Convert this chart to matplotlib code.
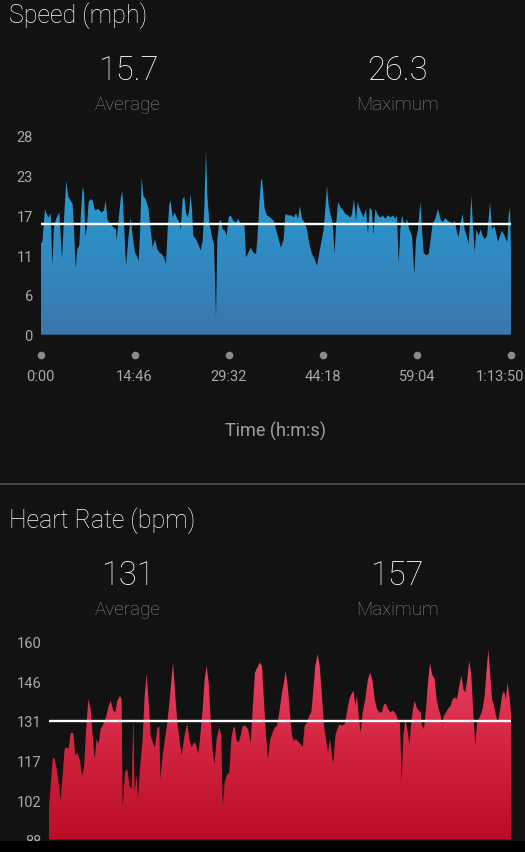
import numpy as np
import matplotlib
matplotlib.use('Agg')
import matplotlib.pyplot as plt
from matplotlib.colors import LinearSegmentedColormap
from matplotlib.patches import Rectangle
from matplotlib.lines import Line2D
from matplotlib.transforms import blended_transform_factory, ScaledTranslation

plt.rcParams['font.family'] = ['Roboto', 'DejaVu Sans']

# ---------------- data ----------------
duration_min = 73 + 50 / 60.0          # 1:13:50
xtick_labels = ['0:00', '14:46', '29:32', '44:18', '59:04', '1:13:50']

speed_time = [
    0.00, 0.29, 0.71, 0.97, 1.28, 1.60, 1.86, 2.12, 2.54, 2.96,
    3.37, 3.69, 4.05, 4.37, 4.73, 5.05, 5.26, 5.52, 5.78, 6.09,
    6.36, 6.62, 6.83, 7.04, 7.25, 7.56, 7.87, 8.19, 8.55, 9.08,
    9.60, 9.97, 10.23, 10.49, 10.91, 11.43, 11.85, 11.95, 12.27, 12.58,
    12.84, 13.10, 13.42, 13.78, 14.15, 14.46, 14.83, 15.09, 15.41, 15.61,
    15.88, 16.14, 16.50, 16.92, 17.29, 17.60, 17.97, 18.33, 18.65, 19.01,
    19.38, 19.69, 19.96, 20.22, 20.43, 20.74, 21.06, 21.37, 21.68, 22.00,
    22.31, 22.57, 22.83, 23.04, 23.30, 23.57, 23.77, 23.98, 24.40, 24.77,
    25.14, 25.45, 25.71, 25.97, 26.18, 26.50, 26.86, 27.23, 27.54, 27.75,
    28.06, 28.27, 28.59, 28.95, 29.22, 29.53, 29.84, 30.26, 30.68, 31.05,
    31.41, 31.73, 31.99, 32.25, 32.62, 32.98, 33.40, 33.82, 34.03, 34.34,
    34.60, 34.76,
    35.18, 35.54, 36.07, 36.59, 36.96, 37.38, 37.74, 38.16, 38.42, 38.84,
    39.36, 39.73, 40.10, 40.41, 40.72, 41.04, 41.46, 41.82, 42.19, 42.61,
    43.02, 43.39, 43.76, 44.07, 44.44, 44.70, 44.96, 45.22, 45.54, 45.85,
    46.16, 46.37, 46.69, 47.11, 47.52, 47.84, 48.26, 48.67, 48.88, 49.20,
    49.51, 49.77, 50.03, 50.35, 50.71, 51.08, 51.39, 51.66, 52.02, 52.23,
    52.55, 52.96, 53.38, 53.70, 54.11, 54.53, 54.95, 55.32, 55.68, 55.95,
    56.21, 56.47, 56.73, 57.15, 57.51, 57.88, 58.30, 58.67, 58.93, 59.24,
    59.61, 59.87, 60.13, 60.50, 60.92, 61.23, 61.54, 61.96, 62.38, 62.75,
    63.11, 63.53, 63.95, 64.32, 64.68, 65.00, 65.36, 65.62, 65.94, 66.25,
    66.56, 66.88, 67.19, 67.45, 67.61, 67.87, 68.13, 68.40, 68.76, 69.08,
    69.39, 69.70, 70.07, 70.33, 70.54, 70.85, 71.22, 71.48, 71.80, 72.11,
    72.42, 72.74, 73.05, 73.26, 73.47, 73.68, 73.83,
]
speed_mph = [
    12.9, 13.2, 17.9, 17.2, 16.7, 17.3, 9.8, 15.5, 16.7, 17.4,
    10.8, 16.5, 21.9, 19.6, 19.1, 18.6, 15.0, 9.4, 12.2, 12.7,
    17.4, 21.0, 20.3, 14.1, 15.0, 18.9, 19.3, 19.1, 17.7, 17.9,
    17.4, 17.7, 19.1, 16.5, 15.8, 15.3, 15.0, 13.4, 16.5, 19.3,
    20.5, 16.0, 9.8, 13.6, 16.7, 14.1, 11.7, 11.3, 10.5, 14.1,
    22.4, 19.8, 19.3, 18.1, 15.0, 12.4, 13.6, 12.2, 11.7, 11.5,
    11.0, 10.1, 15.0, 18.6, 19.1, 16.7, 17.4, 16.7, 16.2, 15.0,
    19.3, 19.6, 17.4, 16.7, 17.4, 20.0, 17.9, 14.1, 13.6, 12.9,
    12.0, 13.4, 17.9, 26.3, 19.8, 16.0, 14.1, 12.9, 2.5, 13.6,
    16.0, 16.4, 15.0, 14.8, 14.1, 16.7, 17.0, 16.2, 16.0, 16.5,
    15.8, 15.8, 16.0, 11.0, 11.7, 12.4, 11.7, 11.5, 13.6, 18.6,
    21.9, 22.2,
    17.9, 17.0, 16.7, 16.2, 15.0, 13.6, 12.4, 13.6, 17.2, 17.0,
    17.0, 16.7, 17.3, 16.5, 18.3, 16.5, 16.0, 15.0, 12.9, 11.5,
    10.8, 9.8, 11.7, 13.2, 15.0, 17.9, 21.2, 18.4, 17.0, 16.0,
    11.5, 15.5, 18.9, 18.1, 17.7, 17.2, 17.0, 16.7, 17.2, 19.3,
    16.2, 18.9, 18.1, 17.4, 16.7, 17.9, 14.3, 18.1, 17.7, 14.1,
    17.9, 17.0, 16.7, 17.0, 16.5, 17.0, 16.7, 17.0, 16.5, 17.0,
    10.1, 15.0, 17.0, 15.5, 16.5, 15.0, 14.1, 8.6, 13.6, 15.0,
    18.9, 15.0, 11.7, 11.3, 11.5, 13.6, 15.8, 16.5, 17.9, 16.5,
    16.0, 16.6, 16.2, 16.0, 15.8, 16.2, 14.6, 13.9, 16.0, 17.2,
    15.0, 14.1, 12.9, 17.0, 19.8, 15.5, 11.7, 15.0, 14.1, 15.0,
    14.1, 13.6, 14.1, 16.5, 18.9, 15.0, 15.5, 14.6, 13.2, 14.1,
    14.8, 14.3, 13.6, 13.2, 17.0, 18.1, 11.7,
]
speed_avg = 15.7
speed_max = 26.3
speed_ylim = (0, 28.3)
speed_ytick_labels = ['0', '6', '11', '17', '23', '28']

hr_time = [
    0.00, 0.27, 0.59, 0.85, 1.23, 1.54, 1.86, 2.18, 2.50, 2.82,
    3.14, 3.46, 3.89, 4.21, 4.53, 4.95, 5.27, 5.59, 5.91, 6.29,
    6.66, 6.98, 7.30, 7.62, 7.94, 8.26, 8.68, 9.11, 9.48, 9.85,
    10.28, 10.60, 10.92, 11.35, 11.61, 11.77, 12.15, 12.52, 12.84, 13.21,
    13.48, 13.69, 14.01, 14.22, 14.54, 14.97, 15.29, 15.61, 15.93, 16.25,
    16.57, 16.94, 17.31, 17.63, 17.79, 18.16, 18.54, 18.91, 19.34, 19.82,
    20.19, 20.51, 20.83, 21.20, 21.57, 21.89, 22.11, 22.43, 22.80, 23.17,
    23.49, 23.86, 24.13, 24.56, 24.88, 25.20, 25.52, 25.84, 26.16, 26.47,
    26.79, 27.22, 27.54, 27.75, 28.07, 28.39, 28.82, 29.14, 29.46, 29.72,
    29.99, 30.31, 30.63, 30.95, 31.38, 31.80, 32.23, 32.55, 32.92, 33.29,
    33.72, 34.04,
    34.31, 34.68, 35.00, 35.37, 35.74, 36.06, 36.44, 36.81, 37.24, 37.56,
    37.82, 38.20, 38.51, 38.83, 39.15, 39.47, 39.90, 40.22, 40.54, 40.86,
    41.23, 41.60, 41.92, 42.30, 42.56, 42.94, 43.26, 43.63, 43.95, 44.27,
    44.59, 44.91, 45.23, 45.44, 45.76, 46.08, 46.40, 46.82, 47.25, 47.62,
    48.00, 48.32, 48.69, 48.96, 49.22, 49.49, 49.81, 50.13, 50.55, 50.98,
    51.35, 51.73, 52.05, 52.42, 52.79, 53.22, 53.54, 53.86, 54.18, 54.55,
    54.92, 55.24, 55.56, 55.88, 56.09, 56.36, 56.63, 56.95, 57.27, 57.59,
    57.90, 58.17, 58.44, 58.76, 59.08, 59.40, 59.61, 59.93, 60.25, 60.57,
    60.89, 61.21, 61.63, 61.95, 62.27, 62.59, 62.81, 63.13, 63.45, 63.76,
    64.19, 64.51, 64.83, 65.20, 65.58, 65.90, 66.22, 66.53, 66.85, 67.17,
    67.49, 67.81, 68.13, 68.40, 68.67, 68.93, 69.30, 69.62, 69.94, 70.21,
    70.53, 70.80, 71.12, 71.44, 71.75, 72.07, 72.39, 72.71, 73.03, 73.25,
    73.57, 73.78, 73.83,
]
hr_bpm = [
    100.0, 107.6, 117.3, 117.9, 113.7, 108.8, 102.1, 111.3, 121.0, 121.6,
    121.0, 126.8, 126.8, 118.5, 119.7, 116.7, 111.3, 113.7, 127.0, 139.1,
    135.5, 125.8, 117.3, 124.6, 122.8, 128.2, 130.0, 132.5, 136.1, 138.5,
    134.9, 134.3, 138.5, 140.3, 139.1, 99.7, 112.5, 113.7, 107.6, 106.4,
    132.5, 105.2, 111.3, 102.7, 113.7, 124.6, 140.3, 148.2, 137.9, 125.8,
    123.4, 121.6, 128.2, 129.4, 110.0, 118.5, 124.6, 130.6, 140.3, 152.4,
    140.3, 130.6, 124.6, 118.5, 124.6, 128.2, 130.0, 124.6, 121.6, 123.4,
    122.8, 119.2, 124.6, 135.5, 146.4, 151.2, 145.2, 131.8, 119.7, 115.5,
    124.6, 128.8, 125.8, 100.3, 108.8, 111.3, 112.5, 124.6, 128.8, 128.8,
    123.9, 123.4, 125.8, 129.4, 129.4, 128.2, 123.4, 135.5, 148.8, 150.6,
    152.4, 151.2,
    140.3, 125.8, 117.3, 124.6, 127.0, 128.8, 129.4, 134.3, 141.5, 145.2,
    149.4, 142.8, 134.3, 125.8, 123.9, 124.6, 123.4, 122.8, 121.6, 129.4,
    130.6, 133.1, 134.3, 144.0, 151.2, 155.5, 151.2, 140.3, 129.4, 124.6,
    119.7, 124.6, 118.5, 115.5, 125.8, 128.2, 130.0, 129.4, 130.0, 134.3,
    139.1, 140.9, 142.1, 136.7, 140.3, 133.1, 127.0, 134.3, 139.1, 146.4,
    148.8, 145.2, 139.1, 135.5, 134.3, 134.3, 137.3, 137.3, 135.5, 134.3,
    134.9, 134.3, 133.1, 130.6, 130.6, 108.8, 125.8, 131.8, 128.2, 122.8,
    130.6, 135.5, 138.5, 136.1, 134.9, 134.3, 129.4, 128.2, 135.5, 145.2,
    152.4, 148.2, 146.4, 139.1, 135.5, 133.1, 130.0, 133.1, 134.3, 135.5,
    136.7, 139.1, 139.7, 139.1, 144.0, 147.7, 142.8, 141.5, 146.4, 153.0,
    147.7, 134.3, 122.2, 130.6, 131.8, 133.1, 135.5, 140.3, 149.6, 157.0,
    147.7, 139.1, 136.7, 133.1, 130.6, 134.9, 140.3, 142.1, 139.1, 145.2,
    140.3, 135.5, 134.3,
]
hr_avg = 131
hr_max = 157
hr_ylim = (88, 160)
hr_ytick_labels = ['88', '102', '117', '131', '146', '160']

# ---------------- styling ----------------
BG = '#121212'
W, H = 525, 853
fig = plt.figure(figsize=(W / 100, H / 100), dpi=100, facecolor=BG)


def px_box(left, top, right, bottom):
    return [left / W, 1 - bottom / H, (right - left) / W, (bottom - top) / H]


def fy(y_px):
    return 1 - y_px / H


speed_cmap = LinearSegmentedColormap.from_list('spd', ['#3b77ae', '#2d8fc6', '#22a8de'])
hr_cmap = LinearSegmentedColormap.from_list('hr', ['#bb0c25', '#d42642', '#ee4a6d'])


def area_chart(ax, t, v, ylim, cmap, avg, ylabels):
    ax.set_facecolor(BG)
    coll = ax.fill_between(t, v, ylim[0], facecolor='none', edgecolor='none')
    grad = np.linspace(0, 1, 256).reshape(-1, 1)
    im = ax.imshow(grad, extent=[0, duration_min, ylim[0], ylim[1]], origin='lower',
                   aspect='auto', cmap=cmap, zorder=1, interpolation='bilinear')
    im.set_clip_path(coll.get_paths()[0], transform=ax.transData)
    ax.axhline(avg, color='white', lw=1.7, zorder=3)
    ax.set_xlim(0, duration_min)
    ax.set_ylim(*ylim)
    ax.set_yticks(np.linspace(ylim[0], ylim[1], 6))
    ax.set_yticklabels(ylabels)
    ax.tick_params(axis='y', length=0, pad=5.5, labelsize=10.5, labelcolor='#a8a8a8')
    for s in ax.spines.values():
        s.set_visible(False)


# Speed panel
ax1 = fig.add_axes(px_box(40.5, 137, 511, 335.7))
area_chart(ax1, speed_time, speed_mph, speed_ylim, speed_cmap, speed_avg, speed_ytick_labels)
xt = np.linspace(0, duration_min, 6)
ax1.set_xticks(xt)
ax1.set_xticklabels(xtick_labels)
ax1.tick_params(axis='x', length=0, pad=25, labelsize=10.5, labelcolor='#a8a8a8')
last = ax1.get_xticklabels()[-1]
last.set_transform(last.get_transform() + ScaledTranslation(-0.11, 0, fig.dpi_scale_trans))
trans = blended_transform_factory(ax1.transData, ax1.transAxes)
ax1.plot(xt, [-0.1] * len(xt), 'o', ms=4.5, color='#8a8a8a', transform=trans, clip_on=False)
ax1.set_xlabel('Time (h:m:s)', fontsize=13, color='#a0a0a0')
ax1.xaxis.set_label_coords(0.5, (335.7 - 431) / 198.7)
ax1.xaxis.label.set_va('center')

# Heart rate panel
ax2 = fig.add_axes(px_box(49, 642.7, 511, 840.6))
area_chart(ax2, hr_time, hr_bpm, hr_ylim, hr_cmap, hr_avg, hr_ytick_labels)
ax2.set_xticks([])

# Headers
for off, title, avg_s, max_s in [(0, 'Speed (mph)', f'{speed_avg:.1f}', f'{speed_max:.1f}'),
                                 (505, 'Heart Rate (bpm)', f'{hr_avg:d}', f'{hr_max:d}')]:
    fig.text(9 / W, fy(23.5 + off), title, color='white', fontsize=18, fontweight='light',
             ha='left', va='baseline')
    fig.text(128 / W, fy(80 + off), avg_s, color='white', fontsize=23.5, fontweight='light',
             ha='center', va='baseline')
    fig.text(397 / W, fy(80 + off), max_s, color='white', fontsize=23.5, fontweight='light',
             ha='center', va='baseline')
    fig.text(128 / W, fy(110 + off), 'Average', color='#8a8a8a', fontsize=13.5, fontweight='light',
             ha='center', va='baseline')
    fig.text(397 / W, fy(110 + off), 'Maximum', color='#8a8a8a', fontsize=13.5, fontweight='light',
             ha='center', va='baseline')

# separator and bottom bar
fig.add_artist(Line2D([0, 1], [fy(485)] * 2, color='#4a4a4a', lw=1.3, transform=fig.transFigure))
fig.add_artist(Rectangle((0, 0), 1, 11.5 / H, transform=fig.transFigure, facecolor='black',
                         edgecolor='none', zorder=10))

fig.savefig('out.png', dpi=100, facecolor=BG)
